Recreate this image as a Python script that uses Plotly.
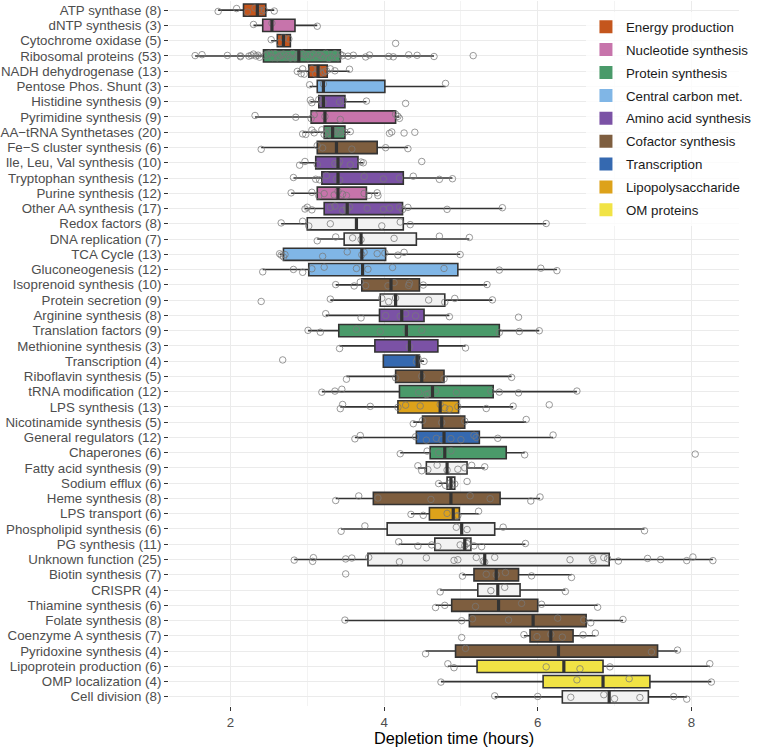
import plotly.graph_objects as go

categories = [
    "ATP synthase (8)", "dNTP synthesis (3)", "Cytochrome oxidase (5)", "Ribosomal proteins (53)",
    "NADH dehydrogenase (13)", "Pentose Phos. Shunt (3)", "Histidine synthesis (9)",
    "Pyrimidine synthesis (9)", "AA\u2212tRNA Synthetases (20)", "Fe\u2212S cluster synthesis (6)",
    "Ile, Leu, Val synthesis (10)", "Tryptophan synthesis (12)", "Purine synthesis (12)",
    "Other AA synthesis (17)", "Redox factors (8)", "DNA replication (7)", "TCA Cycle (13)",
    "Gluconeogenesis (12)", "Isoprenoid synthesis (10)", "Protein secretion (9)",
    "Arginine synthesis (8)", "Translation factors (9)", "Methionine synthesis (3)",
    "Transcription (4)", "Riboflavin synthesis (5)", "tRNA modification (12)", "LPS synthesis (13)",
    "Nicotinamide synthesis (5)", "General regulators (12)", "Chaperones (6)",
    "Fatty acid synthesis (9)", "Sodium efflux (6)", "Heme synthesis (8)", "LPS transport (6)",
    "Phospholipid synthesis (6)", "PG synthesis (11)", "Unknown function (25)",
    "Biotin synthesis (7)", "CRISPR (4)", "Thiamine synthesis (6)", "Folate synthesis (8)",
    "Coenzyme A synthesis (7)", "Pyridoxine synthesis (4)", "Lipoprotein production (6)",
    "OMP localization (4)", "Cell division (8)",
]

groups = [
    "Energy production", "Nucleotide synthesis", "Energy production", "Protein synthesis",
    "Energy production", "Central carbon met.", "Amino acid synthesis", "Nucleotide synthesis",
    "Protein synthesis", "Cofactor synthesis", "Amino acid synthesis", "Amino acid synthesis",
    "Nucleotide synthesis", "Amino acid synthesis", "Other", "Other", "Central carbon met.",
    "Central carbon met.", "Cofactor synthesis", "Other", "Amino acid synthesis",
    "Protein synthesis", "Amino acid synthesis", "Transcription", "Cofactor synthesis",
    "Protein synthesis", "Lipopolysaccharide", "Cofactor synthesis", "Transcription",
    "Protein synthesis", "Other", "Other", "Cofactor synthesis", "Lipopolysaccharide",
    "Other", "Other", "Other", "Cofactor synthesis", "Other", "Cofactor synthesis",
    "Cofactor synthesis", "Cofactor synthesis", "Cofactor synthesis", "OM proteins",
    "OM proteins", "Other",
]

lower = [1.84, 2.30, 2.53, 1.54, 2.87, 3.03, 3.04, 2.32, 2.94, 2.40, 2.90, 2.82, 2.79, 2.97,
         2.66, 3.13, 2.64, 2.42, 3.37, 3.30, 3.24, 3.01, 3.42, 3.99, 3.51, 3.19, 3.43, 4.38,
         3.62, 4.21, 4.44, 4.71, 3.37, 4.35, 3.44, 4.19, 2.83, 5.02, 4.73, 4.67, 3.49, 5.82,
         4.54, 4.83, 4.74, 5.44]
q1 = [2.17, 2.42, 2.61, 2.43, 3.02, 3.13, 3.15, 3.05, 3.22, 3.13, 3.11, 3.19, 3.13, 3.22,
      3.00, 3.48, 2.69, 3.02, 3.71, 3.95, 3.94, 3.41, 3.88, 3.99, 4.15, 4.20, 4.18, 4.50,
      4.42, 4.60, 4.55, 4.82, 3.86, 4.59, 4.04, 4.66, 3.79, 5.17, 5.22, 4.88, 5.11, 5.90,
      4.93, 5.21, 6.07, 6.32]
median = [2.35, 2.54, 2.69, 2.89, 3.14, 3.21, 3.21, 3.23, 3.33, 3.38, 3.40, 3.40, 3.40, 3.52,
          3.64, 3.70, 3.71, 3.72, 4.09, 4.15, 4.23, 4.29, 4.33, 4.43, 4.49, 4.63, 4.73, 4.75,
          4.78, 4.79, 4.82, 4.87, 4.87, 4.90, 5.01, 5.05, 5.31, 5.46, 5.48, 5.49, 5.94, 6.17,
          6.27, 6.34, 6.85, 6.93]
q3 = [2.46, 2.84, 2.78, 3.43, 3.26, 4.01, 3.49, 4.15, 3.49, 3.91, 3.66, 4.25, 3.77, 4.24,
      4.25, 4.42, 4.02, 4.96, 4.46, 4.79, 4.52, 5.50, 4.70, 4.46, 4.78, 5.42, 4.97, 5.05,
      5.24, 5.59, 5.08, 4.92, 5.51, 4.98, 5.44, 5.13, 6.93, 5.75, 5.77, 6.00, 6.63, 6.46,
      7.56, 6.85, 7.46, 7.44]
upper = [2.57, 3.13, 2.78, 4.65, 3.55, 4.80, 3.77, 4.20, 3.56, 4.31, 3.73, 4.89, 3.92, 5.54,
         6.11, 5.11, 4.99, 6.25, 5.34, 5.41, 4.85, 6.02, 5.06, 4.52, 5.66, 6.51, 5.68, 5.85,
         6.20, 5.83, 5.31, 4.92, 6.03, 5.23, 7.39, 5.84, 8.28, 6.44, 6.36, 6.78, 7.11, 6.75,
         7.82, 8.24, 8.26, 7.94]

points = [
    [1.84, 2.08, 2.22, 2.32, 2.37, 2.40, 2.44, 2.57],
    [2.30, 2.54, 3.13],
    [2.53, 2.64, 2.69, 2.76, 4.15],
    [1.54, 1.63, 1.96, 2.13, 2.13, 2.24, 2.27, 2.30, 2.33, 2.36, 2.38,
     2.45, 2.48, 2.52, 2.55, 2.58, 2.61, 2.63, 2.66, 2.69, 2.72, 2.75, 2.78, 2.81, 2.84, 2.87,
     2.89,
     2.93, 2.97, 3.01, 3.05, 3.08, 3.12, 3.15, 3.18, 3.21, 3.24, 3.28, 3.32, 3.36, 3.40, 3.43,
     3.46, 3.53, 3.60, 3.76, 3.81, 4.06, 4.12, 4.32, 4.43, 4.65, 5.16],
    [2.87, 2.92, 2.94, 2.96, 3.06, 3.11, 3.14, 3.18, 3.22, 3.25, 3.30, 3.36, 3.55],
    [3.03, 3.21, 4.80],
    [3.04, 3.06, 3.15, 3.19, 3.21, 3.42, 3.47, 3.77, 4.28],
    [2.32, 2.85, 3.05, 3.09, 3.23, 3.43, 4.15, 4.18, 4.20],
    [2.94, 2.98, 3.06, 3.09, 3.19, 3.22, 3.25, 3.28, 3.30, 3.33, 3.36, 3.39, 3.42, 3.45, 3.49,
     3.56, 4.07, 4.10, 4.26, 4.40],
    [2.40, 3.13, 3.20, 3.58, 4.02, 4.31],
    [2.90, 2.97, 3.13, 3.36, 3.40, 3.42, 3.56, 3.70, 3.73, 4.49],
    [2.82, 3.11, 3.16, 3.25, 3.38, 3.42, 3.74, 3.99, 4.20, 4.38, 4.72, 4.89],
    [2.79, 3.06, 3.15, 3.22, 3.35, 3.40, 3.46, 3.51, 3.74, 3.80, 3.91, 3.92],
    [2.97, 3.00, 3.06, 3.30, 3.36, 3.46, 3.51, 3.52, 3.55, 3.78, 3.99, 4.07, 4.20, 4.24, 4.31,
     4.82, 5.54],
    [2.66, 2.94, 3.02, 3.30, 3.97, 4.21, 4.34, 6.11],
    [3.13, 3.37, 3.59, 3.70, 4.13, 4.72, 5.11],
    [2.64, 2.66, 2.69, 2.71, 3.20, 3.52, 3.71, 3.74, 3.91, 4.01, 4.18, 4.26, 4.99],
    [2.42, 2.82, 2.94, 3.06, 3.22, 3.64, 3.79, 4.11, 4.78, 5.50, 6.04, 6.25],
    [3.37, 3.61, 3.69, 3.76, 4.05, 4.13, 4.32, 4.33, 4.51, 5.34],
    [2.40, 3.30, 3.97, 4.06, 4.15, 4.58, 4.79, 4.92, 5.41],
    [3.24, 3.70, 4.02, 4.21, 4.28, 4.41, 4.85, 5.75],
    [3.01, 3.17, 3.64, 3.95, 4.29, 4.49, 5.50, 5.76, 6.02],
    [3.42, 4.33, 5.06],
    [2.68, 4.42, 4.44, 4.52],
    [3.51, 4.15, 4.49, 4.78, 5.66],
    [3.19, 3.36, 3.45, 4.45, 4.55, 4.58, 4.67, 4.94, 5.39, 5.50, 5.75, 6.51],
    [3.43, 3.46, 3.82, 4.18, 4.28, 4.47, 4.73, 4.79, 4.85, 4.96, 5.33, 5.68, 6.15],
    [4.38, 4.50, 4.75, 5.05, 5.85],
    [3.62, 3.69, 4.41, 4.55, 4.68, 4.75, 4.87, 5.00, 5.17, 5.20, 5.48, 6.20],
    [4.21, 4.56, 4.71, 4.87, 5.83, 8.05],
    [4.44, 4.49, 4.57, 4.69, 4.82, 4.96, 5.05, 5.14, 5.31],
    [4.71, 4.80, 4.86, 4.88, 4.92, 5.08],
    [3.37, 3.67, 3.92, 4.61, 5.12, 5.38, 5.91, 6.03],
    [4.35, 4.51, 4.82, 4.94, 4.96, 5.23],
    [3.44, 3.75, 4.94, 5.08, 5.55, 7.39],
    [4.19, 4.44, 4.62, 4.70, 4.99, 5.05, 5.08, 5.10, 5.17, 5.27, 5.84],
    [2.83, 3.07, 3.08, 3.50, 3.58, 3.80, 4.20, 4.55, 4.91, 4.96, 5.20, 5.29, 5.31, 5.44, 6.42,
     6.71, 6.72, 6.86, 6.91, 7.05, 7.43, 7.60, 7.94, 8.02, 8.28],
    [3.50, 5.02, 5.33, 5.46, 5.58, 5.92, 6.44],
    [4.73, 5.39, 5.57, 6.36],
    [4.67, 4.79, 5.19, 5.79, 6.05, 6.78],
    [3.49, 5.01, 5.15, 5.62, 6.26, 6.60, 6.69, 7.11],
    [5.01, 5.82, 5.99, 6.17, 6.32, 6.59, 6.75],
    [4.54, 5.06, 7.48, 7.82],
    [4.83, 4.91, 6.11, 6.55, 6.94, 8.24],
    [4.74, 6.51, 7.19, 8.26],
    [5.44, 6.00, 6.43, 6.86, 7.00, 7.33, 7.77, 7.94],
]

legend_groups = ["Energy production", "Nucleotide synthesis", "Protein synthesis",
                 "Central carbon met.", "Amino acid synthesis", "Cofactor synthesis",
                 "Transcription", "Lipopolysaccharide", "OM proteins"]
group_colors = ["#C4561D", "#C774AB", "#4A9A6A", "#80B6E6", "#7B52A5", "#7E5E3F",
                "#3569B0", "#DDA21A", "#F1E345"]
other_color = "#F2F2F2"

BOX_W = 0.8
EDGE = "#333333"
FONT = "Liberation Sans, Arial, sans-serif"

fig = go.Figure()

def add_group(name, color):
    idx = [i for i, g in enumerate(groups) if g == name]
    fig.add_trace(go.Box(
        name=name, showlegend=False, orientation="h",
        y=[categories[i] for i in idx],
        q1=[q1[i] for i in idx], median=[median[i] for i in idx], q3=[q3[i] for i in idx],
        lowerfence=[lower[i] for i in idx], upperfence=[upper[i] for i in idx],
        fillcolor=color, line=dict(color=EDGE, width=1.6), whiskerwidth=0,
        width=BOX_W, boxpoints=False, hoverinfo="skip",
    ))

add_group("Other", other_color)
for g, c in zip(legend_groups, group_colors):
    add_group(g, c)

# thick median bars
fig.add_trace(go.Scatter(
    x=median, y=categories, mode="markers", showlegend=False, hoverinfo="skip",
    marker=dict(symbol="line-ns", size=9, color=EDGE, line=dict(color=EDGE, width=3.2)),
))

# jittered points
px, py = [], []
for cat, vals in zip(categories, points):
    px.extend(vals)
    py.extend([cat] * len(vals))
fig.add_trace(go.Box(
    x=px, y=py, orientation="h", showlegend=False, boxpoints="all", jitter=0.5,
    pointpos=0, width=BOX_W, fillcolor="rgba(0,0,0,0)",
    line=dict(width=0, color="rgba(0,0,0,0)"), hoverinfo="skip",
    marker=dict(symbol="circle-open", size=6.5, color="rgba(120,120,120,0.75)",
                line=dict(width=1, color="rgba(120,120,120,0.75)")),
))

# legend keys (filled squares)
for g, c in zip(legend_groups, group_colors):
    fig.add_trace(go.Scatter(
        x=[None], y=[None], mode="markers", name=g, legendgroup=g, showlegend=True,
        marker=dict(symbol="square", size=13, color=c, line=dict(width=0)),
    ))

fig.update_layout(
    width=757, height=747,
    margin=dict(l=169, r=0, t=1, b=41),
    paper_bgcolor="white", plot_bgcolor="white",
    font=dict(family=FONT, size=13.3, color="#4D4D4D"),
    boxmode="overlay",
    legend=dict(x=0.7315, y=0.985, xanchor="left", yanchor="top",
                bgcolor="rgba(255,255,255,0.8)", font=dict(size=13.3, color="#1a1a1a"),
                tracegroupgap=2.6, itemwidth=30),
    xaxis=dict(
        range=[1.20, 8.62], tickvals=[2, 4, 6, 8], ticktext=["2", "4", "6", "8"],
        showgrid=True, gridcolor="#EBEBEB", gridwidth=1, zeroline=False,
        minor=dict(tickvals=[3, 5, 7], showgrid=True, gridcolor="#F3F3F3", gridwidth=0.6),
        ticks="outside", ticklen=4, tickcolor="#333333", tickwidth=1.1,
        tickfont=dict(size=13.3, color="#4D4D4D"),
        title=dict(text="Depletion time (hours)", font=dict(size=16.3, color="#000000"),
                   standoff=3),
        showline=False, automargin=False,
    ),
    yaxis=dict(
        type="category", categoryorder="array", categoryarray=categories,
        tickmode="array", tickvals=categories, ticktext=categories,
        range=[len(categories) - 0.4, -0.6],
        showgrid=True, gridcolor="#EBEBEB", gridwidth=1, zeroline=False,
        ticks="outside", ticklen=4, tickcolor="#333333", tickwidth=1.1,
        tickfont=dict(size=13.3, color="#4D4D4D"), automargin=False,
    ),
)

fig.write_html("out.html", config={"displayModeBar": False},
               post_script="document.body.style.margin='0px';")
